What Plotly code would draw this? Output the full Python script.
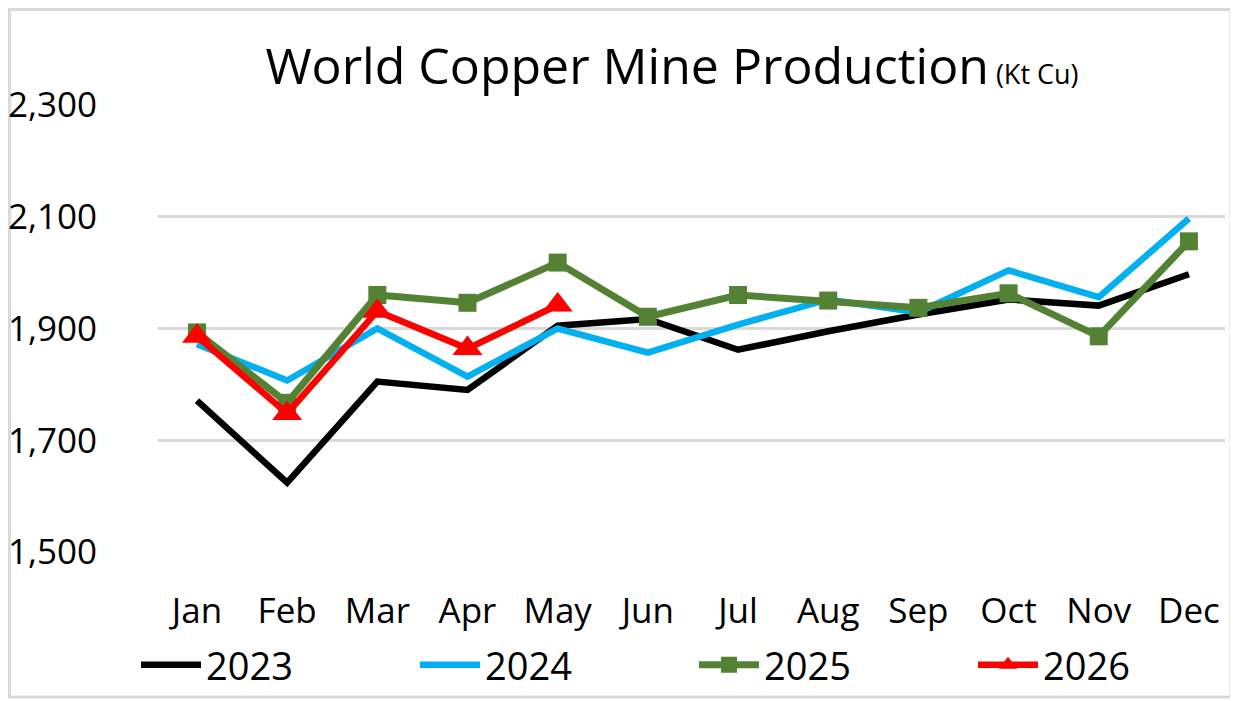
import plotly.graph_objects as go

months = ["Jan", "Feb", "Mar", "Apr", "May", "Jun", "Jul", "Aug", "Sep", "Oct", "Nov", "Dec"]

prod_2023 = [1771, 1624, 1805, 1790, 1905, 1917, 1862, 1895, 1925, 1952, 1941, 1997]
prod_2024 = [1872, 1807, 1900, 1814, 1900, 1857, 1907, 1952, 1929, 2004, 1956, 2097]
prod_2025 = [1893, 1767, 1960, 1946, 2018, 1921, 1960, 1950, 1937, 1963, 1886, 2056]
prod_2026 = [1886, 1748, 1931, 1864, 1942]

yticks = [1500, 1700, 1900, 2100, 2300]

# page body has an 8px margin, so the figure is a bit smaller than the window
W, H = 1230, 693
L, R, T, B = 150, 13, 97, 149
pw, ph = W - L - R, H - T - B

fig = go.Figure()
fig.add_trace(go.Scatter(x=months, y=prod_2023, name="2023", mode="lines",
                         line=dict(color="#000000", width=6.5)))
fig.add_trace(go.Scatter(x=months, y=prod_2024, name="2024", mode="lines",
                         line=dict(color="#00b0f0", width=6.5)))
fig.add_trace(go.Scatter(x=months, y=prod_2025, name="2025", mode="lines+markers",
                         line=dict(color="#548235", width=7),
                         marker=dict(symbol="square", size=18, color="#548235")))
fig.add_trace(go.Scatter(x=months[:len(prod_2026)], y=prod_2026, name="2026", mode="lines+markers",
                         line=dict(color="#ff0000", width=6.5),
                         marker=dict(symbol="triangle-up", size=26, color="#ff0000")))

font = "Open Sans, Noto Sans, sans-serif"

fig.update_layout(
    width=W, height=H,
    margin=dict(l=L, r=R, t=T, b=B, autoexpand=False),
    paper_bgcolor="white", plot_bgcolor="white",
    font=dict(family=font, size=35, color="#000000"),
    title=dict(
        text="World Copper Mine Production<span style='font-size:27px'> (Kt Cu)</span>",
        x=664 / W, xanchor="center",
        y=1 - 58 / H, yanchor="middle",
        font=dict(family=font, size=50, color="#000000"),
    ),
    showlegend=True,
    legend=dict(
        orientation="h",
        x=(128 - L) / pw, xanchor="left",
        y=-(657 - (T + ph)) / ph, yanchor="middle",
        entrywidth=204, entrywidthmode="pixels",
        font=dict(family=font, size=38),
        itemwidth=60,
        bgcolor="rgba(0,0,0,0)",
    ),
    shapes=[dict(
        type="rect", xref="paper", yref="paper",
        x0=-(L - 1.5) / pw, x1=1 + (R - 7) / pw,
        y0=-(B - 4) / ph, y1=1 + (T - 1.5) / ph,
        line=dict(color="#d9d9d9", width=3),
        fillcolor="rgba(0,0,0,0)", layer="below",
    )],
)

fig.update_xaxes(
    range=[-0.432, 11.4],
    showgrid=False, zeroline=False, showline=False,
    ticks="", ticklabelstandoff=35,
    tickfont=dict(family=font, size=35),
)
fig.update_yaxes(
    range=[1500, 2300], tickvals=yticks, tickformat=",",
    showgrid=True, gridcolor="#d9d9d9", gridwidth=3,
    zeroline=False, showline=False, ticks="",
    ticklabelstandoff=60,
    tickfont=dict(family=font, size=35),
)

fig.write_html("out.html")
